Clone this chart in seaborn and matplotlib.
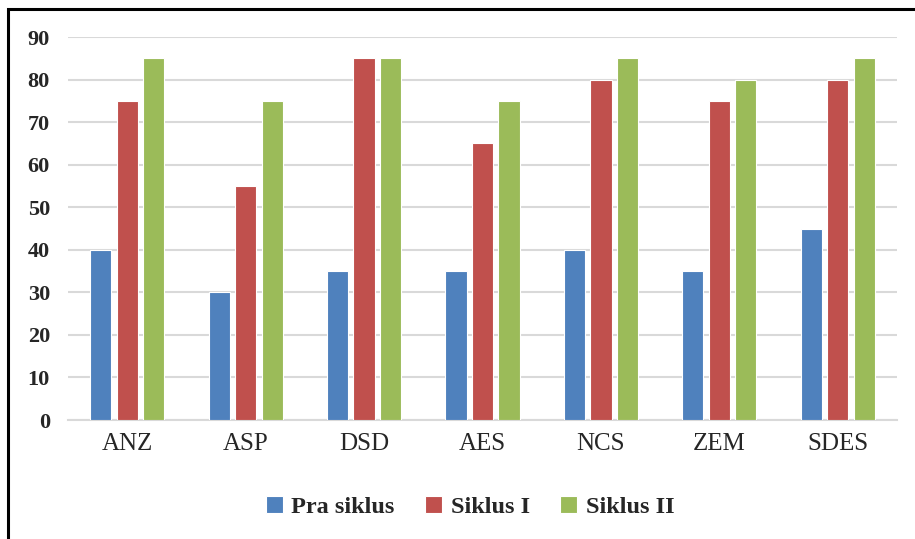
import matplotlib
matplotlib.use("Agg")
import matplotlib.pyplot as plt
from matplotlib.patches import Rectangle
import seaborn as sns
import pandas as pd

categories = ["ANZ", "ASP", "DSD", "AES", "NCS", "ZEM", "SDES"]
series_names = ["Pra siklus", "Siklus I", "Siklus II"]
pra_siklus = [40, 30, 35, 35, 40, 35, 45]
siklus_1 = [75, 55, 85, 65, 80, 75, 80]
siklus_2 = [85, 75, 85, 75, 85, 80, 85]
y_ticks = [0, 10, 20, 30, 40, 50, 60, 70, 80, 90]

colors = ["#4F81BD", "#C0504D", "#9BBB59"]

rows = []
for name, values in zip(series_names, [pra_siklus, siklus_1, siklus_2]):
    for cat, v in zip(categories, values):
        rows.append({"Kategori": cat, "Seri": name, "Nilai": v})
df = pd.DataFrame(rows)

sns.set_theme(style="white")
plt.rcParams["font.family"] = ["Liberation Serif", "DejaVu Serif"]

fig = plt.figure(figsize=(9.15, 5.39), dpi=100)
ax = fig.add_axes([68 / 915, 1 - 420 / 539, (897 - 68) / 915, (420 - 37) / 539])

sns.barplot(data=df, x="Kategori", y="Nilai", hue="Seri", order=categories,
            hue_order=series_names, palette=colors, width=0.67, gap=0.2,
            edgecolor="white", linewidth=0.8, saturation=1, ax=ax, zorder=3)

ax.set_ylim(0, 90)
ax.set_xlim(-0.5, len(categories) - 0.5)
ax.set_yticks(y_ticks)
ax.set_yticklabels([str(t) for t in y_ticks], fontsize=16, fontweight="bold")
ax.tick_params(axis="y", length=0, pad=13)
ax.tick_params(axis="x", length=0, pad=9, labelsize=18)
ax.set_xlabel("")
ax.set_ylabel("")
ax.grid(axis="y", color="#D9D9D9", linewidth=1.5, zorder=0)
ax.set_axisbelow(True)
for side in ["top", "right", "left"]:
    ax.spines[side].set_visible(False)
ax.spines["bottom"].set_color("#D9D9D9")
ax.spines["bottom"].set_linewidth(1.5)

handles, labels = ax.get_legend_handles_labels()
ax.get_legend().remove()
fig.legend(handles, labels, loc="center", bbox_to_anchor=(470 / 915, 1 - 507 / 539),
           ncol=3, frameon=False, handlelength=0.7, handleheight=0.7,
           handletextpad=0.35, columnspacing=1.25,
           prop={"family": ["Liberation Serif"], "weight": "bold", "size": 17.5})

# frame around the figure (left and top edges visible)
fig.patches.append(Rectangle((8 / 915, -0.1), 1.2, 1 - 9 / 539 + 0.1,
                             transform=fig.transFigure, fill=False,
                             edgecolor="black", linewidth=2.2, zorder=10))

fig.savefig("out.png", dpi=100)
